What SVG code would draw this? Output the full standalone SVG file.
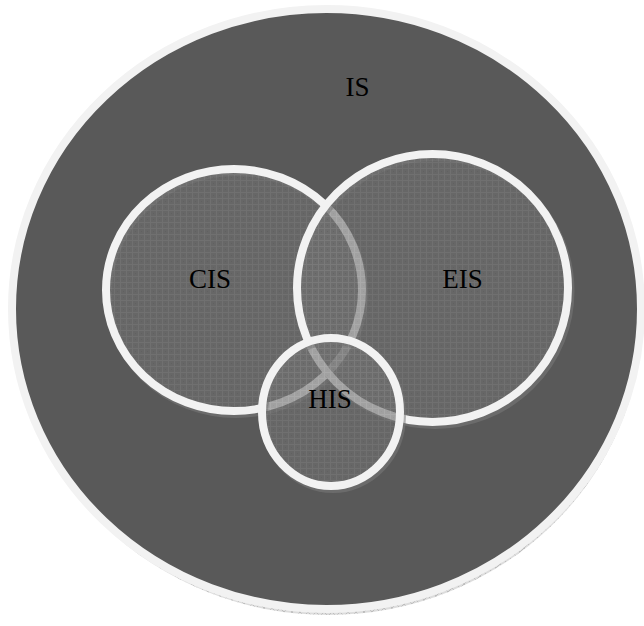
<svg xmlns="http://www.w3.org/2000/svg" width="644" height="626" viewBox="0 0 644 626">
  <style>
    .lbl { font-family: "Liberation Serif", "Times New Roman", serif; font-size: 27px; fill: #000; text-anchor: middle; }
    .ring { stroke: #f2f2f2; stroke-width: 8; }
    .inner { fill: url(#grid); fill-opacity: 0.62; }
    .shadow { fill: none; stroke: #7a7a7a; stroke-width: 8; stroke-opacity: 0.55; }
  </style>
  <defs>
    <pattern id="grid" width="6" height="6" patternUnits="userSpaceOnUse">
      <rect width="6" height="6" fill="#707070"/>
      <path d="M0 0.5H6M0.5 0V6" stroke="#7e7e7e" stroke-width="1"/>
      <rect x="3" y="3" width="1" height="1" fill="#666"/>
    </pattern>
    <pattern id="hatch" width="8" height="8" patternUnits="userSpaceOnUse">
      <rect width="8" height="8" fill="#dcdcdc"/>
      <path d="M0 0L8 8M8 0L0 8" stroke="#bdbdbd" stroke-width="1"/>
    </pattern>
  </defs>

  <g id="IS">
    <ellipse cx="328" cy="313" rx="315" ry="302" fill="url(#hatch)"/>
    <ellipse cx="326.5" cy="309" rx="314.5" ry="300" fill="#595959" class="ring"/>
    <text class="lbl" x="357.5" y="96">IS</text>
  </g>

  <g id="CIS">
    <ellipse class="shadow" cx="236" cy="293" rx="128" ry="121"/>
    <ellipse class="inner ring" cx="234" cy="290" rx="128" ry="121"/>
    <text class="lbl" x="210" y="288">CIS</text>
  </g>

  <g id="EIS">
    <ellipse class="shadow" cx="435" cy="291" rx="135.5" ry="134"/>
    <ellipse class="inner ring" cx="432.5" cy="288" rx="135.5" ry="134"/>
    <text class="lbl" x="462.5" y="288">EIS</text>
  </g>

  <g id="HIS">
    <ellipse class="shadow" cx="333" cy="415" rx="69" ry="74"/>
    <ellipse class="inner ring" cx="331" cy="412" rx="69" ry="74"/>
    <text class="lbl" x="330" y="408">HIS</text>
  </g>

  <g id="connectors"/>
</svg>
